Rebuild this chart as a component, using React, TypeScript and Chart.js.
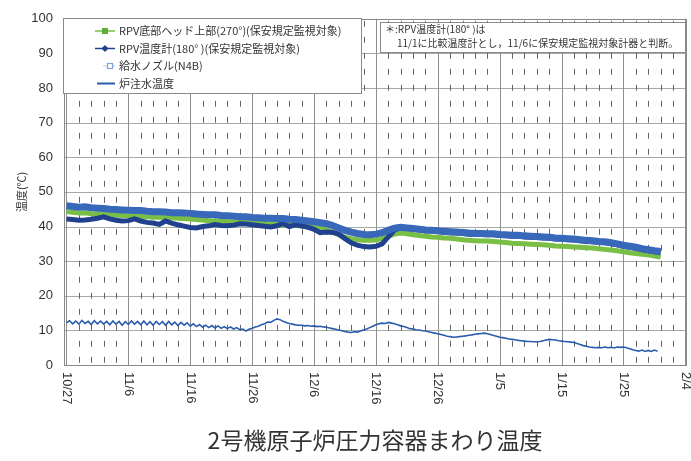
import React, { useEffect, useRef } from "react";
import { Chart, registerables } from "chart.js";

Chart.register(...registerables);

// ---------- text ----------
const chartTitle = "2号機原子炉圧力容器まわり温度";
const yAxisTitle = "温度(℃)";
const xTickLabels = ["10/27", "11/6", "11/16", "11/26", "12/6", "12/16", "12/26", "1/5", "1/15", "1/25", "2/4"];
const labelBottomHead = "RPV底部ヘッド上部(270°)(保安規定監視対象)";
const labelThermometer = "RPV温度計(180° )(保安規定監視対象)";
const labelNozzle = "給水ノズル(N4B)";
const labelInjection = "炉注水温度";
const noteLines = ["＊:RPV温度計(180° )は", "11/1に比較温度計とし，11/6に保安規定監視対象計器と判断。"];

// ---------- data (day 0 = 10/27) ----------
const DAILY_STEP = 1;
const INJECTION_STEP = 0.5;

const rpvBottomHead = [
  44.3, 44.1, 43.9, 44.0, 43.7, 43.6, 43.5, 43.4, 43.3, 43.2,
  43.1, 43.0, 42.9, 42.8, 42.7, 42.7, 42.6, 42.5, 42.4, 42.3,
  42.2, 42.0, 41.9, 41.7, 41.6, 41.5, 41.4, 41.3, 41.3, 41.2,
  41.1, 41.0, 40.9, 40.8, 40.7, 40.3, 40.6, 40.4, 40.1, 40.0,
  39.8, 39.5, 39.1, 38.5, 37.6, 36.9, 36.5, 36.2, 36.0, 36.0,
  36.1, 36.5, 37.2, 37.8, 38.1, 37.9, 37.6, 37.4, 37.2, 37.0,
  36.9, 36.7, 36.6, 36.4, 36.2, 36.0, 35.9, 35.8, 35.8, 35.7,
  35.5, 35.4, 35.2, 35.1, 35.0, 34.9, 34.8, 34.7, 34.6, 34.4,
  34.3, 34.2, 34.1, 34.0, 33.9, 33.8, 33.6, 33.4, 33.2, 33.0,
  32.7, 32.4, 32.2, 32.0, 31.8, 31.5, 31.2,
];

const rpvThermometer = [
  42.2, 42.0, 41.8, 41.9, 42.1, 42.4, 42.8, 42.2, 41.8, 41.6,
  41.7, 42.2, 41.6, 41.2, 41.0, 40.6, 41.6, 41.0, 40.5, 40.1,
  39.7, 39.6, 40.0, 40.2, 40.6, 40.3, 40.2, 40.4, 40.8, 40.7,
  40.5, 40.3, 40.1, 39.9, 40.2, 40.9, 40.0, 40.5, 40.2, 39.8,
  39.2, 38.2, 38.4, 38.3, 37.8, 36.5, 35.3, 34.6, 34.2, 34.1,
  34.3, 35.0, 37.0, 39.0, 39.6, 39.4, 39.2, 39.0, 38.8, 38.7,
  38.6, 38.3, 38.2, 38.1, 38.0, 37.8, 37.7, 37.7, 37.6, 37.6,
  37.4, 37.3, 37.2, 37.2, 37.0, 36.9, 36.8, 36.7, 36.6, 36.4,
  36.3, 36.2, 36.1, 35.9, 35.7, 35.6, 35.4, 35.3, 35.0, 34.7,
  34.3, 34.0, 33.7, 33.3, 33.0, 32.7, 32.4,
];

const feedwaterNozzle = [
  46.0, 45.8, 45.6, 45.7, 45.4, 45.3, 45.2, 45.0, 44.9, 44.8,
  44.7, 44.6, 44.6, 44.4, 44.3, 44.3, 44.2, 44.0, 44.0, 43.9,
  43.8, 43.6, 43.5, 43.4, 43.4, 43.2, 43.1, 43.0, 42.8, 42.8,
  42.6, 42.5, 42.4, 42.4, 42.3, 42.3, 42.1, 42.0, 41.8, 41.6,
  41.4, 41.1, 40.8, 40.3, 39.6, 38.9, 38.4, 38.0, 37.7, 37.6,
  37.8, 38.2, 38.9, 39.5, 39.8, 39.6, 39.4, 39.2, 39.0, 38.9,
  38.8, 38.6, 38.5, 38.4, 38.3, 38.1, 38.0, 38.0, 37.9, 37.9,
  37.7, 37.6, 37.5, 37.5, 37.3, 37.2, 37.1, 37.0, 36.9, 36.7,
  36.6, 36.5, 36.4, 36.2, 36.0, 35.9, 35.7, 35.6, 35.3, 35.0,
  34.6, 34.3, 34.0, 33.6, 33.3, 33.0, 32.8,
];

const injectionWater = [
  12.2, 12.8, 11.9, 12.7, 11.8, 12.9, 12.0, 12.6, 11.7, 12.8,
  11.9, 12.7, 11.8, 12.6, 11.6, 12.7, 11.8, 12.6, 11.5, 12.5,
  11.7, 12.7, 11.8, 12.6, 11.6, 12.7, 11.6, 12.5, 11.5, 12.6,
  11.7, 12.5, 11.5, 12.6, 11.6, 12.4, 11.4, 12.3, 11.5, 12.2,
  11.2, 11.9, 11.1, 11.7, 10.9, 11.5, 10.8, 11.4, 10.7, 11.3,
  10.6, 11.1, 10.5, 11.0, 10.4, 10.8, 10.2, 10.4, 9.8, 10.3,
  10.6, 11.0, 11.2, 11.6, 11.9, 12.4, 12.3, 12.9, 13.3, 13.1,
  12.6, 12.3, 12.0, 11.8, 11.6, 11.5, 11.5, 11.3, 11.4, 11.2,
  11.3, 11.1, 11.2, 11.0, 10.9, 10.7, 10.5, 10.3, 10.1, 9.9,
  9.7, 9.5, 9.4, 9.6, 9.5, 9.8, 10.1, 10.4, 10.8, 11.2,
  11.6, 11.9, 12.1, 12.0, 12.3, 12.1, 11.9, 11.6, 11.3, 11.1,
  10.8, 10.5, 10.4, 10.2, 10.1, 9.9, 9.8, 9.6, 9.4, 9.2,
  9.0, 8.8, 8.6, 8.3, 8.2, 8.0, 8.1, 8.2, 8.3, 8.4,
  8.6, 8.7, 8.9, 9.0, 9.1, 9.2, 9.0, 8.8, 8.5, 8.3,
  8.0, 7.9, 7.7, 7.5, 7.4, 7.3, 7.1, 7.0, 6.9, 6.8,
  6.8, 6.7, 6.7, 6.8, 7.0, 7.2, 7.4, 7.3, 7.2, 7.0,
  6.9, 6.8, 6.7, 6.6, 6.5, 6.2, 5.9, 5.6, 5.4, 5.2,
  5.1, 5.0, 5.1, 5.0, 5.2, 5.0, 5.1, 4.9, 5.2, 5.1,
  5.2, 5.0, 4.7, 4.4, 4.2, 4.0, 4.3, 3.9, 4.2, 3.9,
  4.3, 4.0,
];

// ---------- style ----------
const GREEN = "#79be45";
const NAVY = "#21408e";
const BLUE_BAND = "#3868b9";
const INJ_BLUE = "#2b5cab";
const NOZZLE_LEGEND = "#7fa3d4";
const TEXT = "#333333";
const JP_FONT = "'Noto Sans CJK JP', 'Noto Sans', sans-serif";
const NUM_FONT = "'Liberation Sans', Arial, sans-serif";

const toPoints = (arr: number[], step: number) => arr.map((v, i) => ({ x: i * step, y: v }));

const decorPlugin = {
  id: "decor",
  beforeDatasetsDraw(chart: any) {
    const { ctx, chartArea: a, scales } = chart;
    const xs = scales.x;
    const ys = scales.y;
    ctx.save();
    ctx.lineWidth = 1;
    // horizontal grid
    ctx.strokeStyle = "#a4aaa4";
    ys.ticks.forEach((t: any) => {
      const y = Math.round(ys.getPixelForValue(t.value)) + 0.5;
      ctx.beginPath();
      ctx.moveTo(a.left, y);
      ctx.lineTo(a.right, y);
      ctx.stroke();
    });
    // vertical grid
    for (let d = 0; d <= 100; d += 2) {
      const x = Math.round(xs.getPixelForValue(d)) + 0.5;
      ctx.beginPath();
      if (d % 10 === 0) {
        ctx.setLineDash([]);
        ctx.strokeStyle = "#8e8e8e";
      } else {
        ctx.setLineDash([6, 10]);
        ctx.lineDashOffset = -2;
        ctx.strokeStyle = "#666666";
      }
      ctx.moveTo(x, a.top);
      ctx.lineTo(x, a.bottom);
      ctx.stroke();
    }
    ctx.setLineDash([]);
    ctx.strokeStyle = "#888888";
    ctx.strokeRect(Math.round(a.left) + 0.5, Math.round(a.top) + 0.5, Math.round(a.right - a.left), Math.round(a.bottom - a.top));
    ctx.restore();
  },
  afterDatasetsDraw(chart: any) {
    const { ctx, chartArea: a, scales } = chart;
    const xs = scales.x;
    ctx.save();
    // x labels rotated clockwise
    ctx.fillStyle = TEXT;
    ctx.font = `13px ${NUM_FONT}`;
    ctx.textAlign = "left";
    ctx.textBaseline = "middle";
    xTickLabels.forEach((lab, i) => {
      const x = xs.getPixelForValue(i * 10);
      ctx.save();
      ctx.translate(x, a.bottom + 7);
      ctx.rotate(Math.PI / 2);
      ctx.fillText(lab, 0, 0);
      ctx.restore();
    });

    // legend box
    const lx = 63.5, ly = 18.5, lw = 298, lh = 75;
    ctx.fillStyle = "#ffffff";
    ctx.fillRect(lx, ly, lw, lh);
    ctx.strokeStyle = "#8a8a8a";
    ctx.lineWidth = 1;
    ctx.strokeRect(lx, ly, lw, lh);
    const rows = [31, 48.5, 66, 83.5];
    const ds = chart.data.datasets;
    ctx.font = `11px ${JP_FONT}`;
    ctx.textBaseline = "middle";
    ds.forEach((d: any, i: number) => {
      const y = rows[i];
      const kind = d.legendKind;
      ctx.save();
      if (kind === "square") {
        ctx.strokeStyle = GREEN;
        ctx.lineWidth = 1.5;
        ctx.beginPath(); ctx.moveTo(95, y); ctx.lineTo(115, y); ctx.stroke();
        ctx.fillStyle = "#5fae34";
        ctx.fillRect(102, y - 3, 6, 6);
      } else if (kind === "diamond") {
        ctx.strokeStyle = NAVY;
        ctx.lineWidth = 1.5;
        ctx.beginPath(); ctx.moveTo(95, y); ctx.lineTo(115, y); ctx.stroke();
        ctx.fillStyle = NAVY;
        ctx.beginPath();
        ctx.moveTo(105, y - 3.5); ctx.lineTo(108.5, y); ctx.lineTo(105, y + 3.5); ctx.lineTo(101.5, y);
        ctx.closePath(); ctx.fill();
      } else if (kind === "hollow") {
        ctx.strokeStyle = "#b9cde8";
        ctx.lineWidth = 1;
        ctx.beginPath(); ctx.moveTo(103, y); ctx.lineTo(107, y); ctx.moveTo(113, y); ctx.lineTo(115, y); ctx.stroke();
        ctx.strokeStyle = NOZZLE_LEGEND;
        ctx.lineWidth = 1.2;
        ctx.fillStyle = "#ffffff";
        ctx.fillRect(107.5, y - 2.5, 5, 5);
        ctx.strokeRect(107.5, y - 2.5, 5, 5);
      } else {
        ctx.strokeStyle = INJ_BLUE;
        ctx.lineWidth = 2;
        ctx.beginPath(); ctx.moveTo(97, y); ctx.lineTo(115, y); ctx.stroke();
      }
      ctx.restore();
      ctx.fillStyle = TEXT;
      ctx.textAlign = "left";
      ctx.fillText(d.label, 119, y);
    });

    // note box
    const nx = 380.5, ny = 22.5, nw = 305, nh = 30;
    ctx.fillStyle = "#ffffff";
    ctx.fillRect(nx, ny, nw, nh);
    ctx.strokeStyle = "#8a8a8a";
    ctx.strokeRect(nx, ny, nw, nh);
    ctx.fillStyle = TEXT;
    ctx.font = `10px ${JP_FONT}`;
    ctx.fillText(noteLines[0], 385, 29.5);
    ctx.fillText(noteLines[1], 397, 43.5);
    ctx.restore();
  },
};

export default function App() {
  const canvasRef = useRef<HTMLCanvasElement | null>(null);

  useEffect(() => {
    if (!canvasRef.current) return;
    const chart = new Chart(canvasRef.current, {
      type: "line",
      data: {
        datasets: [
          {
            label: labelBottomHead,
            data: toPoints(rpvBottomHead, DAILY_STEP),
            borderColor: GREEN,
            borderWidth: 5,
            pointRadius: 0,
            order: 3,
            legendKind: "square",
          } as any,
          {
            label: labelThermometer,
            data: toPoints(rpvThermometer, DAILY_STEP),
            borderColor: NAVY,
            borderWidth: 5,
            pointRadius: 0,
            order: 2,
            legendKind: "diamond",
          } as any,
          {
            label: labelNozzle,
            data: toPoints(feedwaterNozzle, DAILY_STEP),
            borderColor: BLUE_BAND,
            borderWidth: 7,
            pointRadius: 0,
            order: 1,
            legendKind: "hollow",
          } as any,
          {
            label: labelInjection,
            data: toPoints(injectionWater, INJECTION_STEP),
            borderColor: INJ_BLUE,
            borderWidth: 1.6,
            pointRadius: 0,
            order: 0,
            legendKind: "line",
          } as any,
        ],
      },
      options: {
        responsive: false,
        animation: false,
        events: [],
        layout: { padding: { top: 17, right: 5, left: 0, bottom: 0 } },
        plugins: {
          legend: { display: false },
          tooltip: { enabled: false },
          title: {
            display: true,
            text: chartTitle,
            position: "bottom",
            fullSize: false,
            color: TEXT,
            font: { family: JP_FONT, size: 23, weight: "normal" },
            padding: { top: 14.2, bottom: 7.2 },
          },
        },
        scales: {
          x: {
            type: "linear",
            min: -0.4,
            max: 100.1,
            ticks: { display: false },
            grid: { display: false },
            border: { display: false },
            afterFit: (s: any) => {
              s.height = 47;
            },
          },
          y: {
            min: 0,
            max: 100,
            ticks: { stepSize: 10, padding: 11, color: TEXT, font: { family: NUM_FONT, size: 13 } },
            grid: { display: false, drawTicks: false },
            border: { display: false },
            title: {
              display: true,
              text: yAxisTitle,
              color: TEXT,
              font: { family: JP_FONT, size: 11 },
              padding: { top: 15.4, bottom: 0 },
            },
            afterFit: (s: any) => {
              s.width = 64;
            },
          },
        },
      } as any,
      plugins: [decorPlugin],
    });
    return () => chart.destroy();
  }, []);

  return (
    <div style={{ position: "absolute", left: 0, top: 0, width: 691, height: 461, background: "#ffffff" }}>
      <canvas ref={canvasRef} width={691} height={461} style={{ display: "block" }} />
    </div>
  );
}
